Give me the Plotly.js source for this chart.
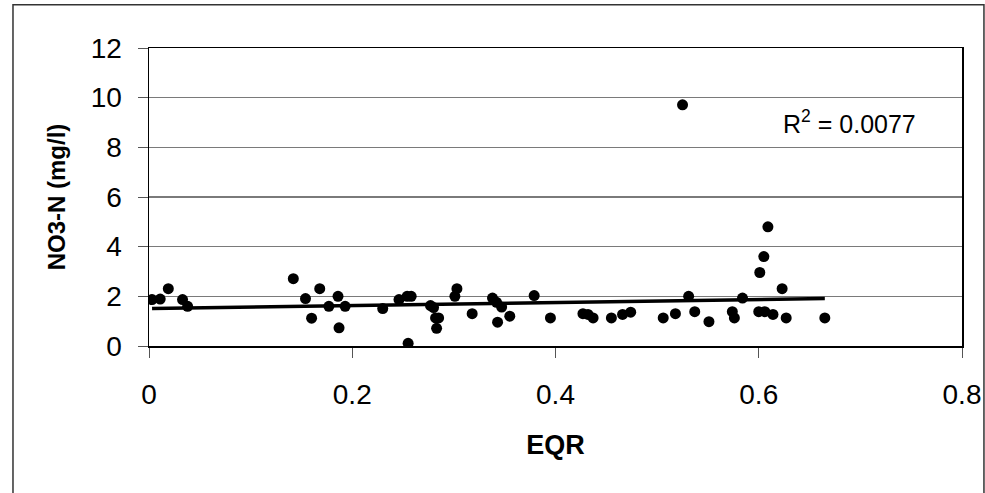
<!DOCTYPE html>
<html>
<head>
<meta charset="utf-8">
<script src="https://cdn.plot.ly/plotly-3.0.1.min.js"></script>
<style>html,body{margin:0;padding:0;background:#fff;}#chart{width:985px;height:493px;}</style>
</head>
<body>
<div id="chart"></div>
<script>
// EQR values (x) and NO3-N values (y, mg/l)
const eqr = [0.003,0.011,0.019,0.033,0.038,0.142,0.154,0.160,0.168,0.177,0.186,0.187,0.193,0.230,0.246,0.254,0.258,0.255,0.277,0.280,0.282,0.285,0.283,0.301,0.303,0.318,0.338,0.342,0.347,0.343,0.355,0.379,0.395,0.427,0.432,0.437,0.455,0.466,0.474,0.506,0.518,0.525,0.531,0.537,0.551,0.574,0.576,0.584,0.601,0.605,0.609,0.600,0.606,0.614,0.623,0.627,0.665];
const no3n = [1.87,1.89,2.31,1.87,1.60,2.71,1.91,1.12,2.31,1.60,2.00,0.73,1.60,1.51,1.87,2.00,2.00,0.11,1.63,1.55,1.13,1.13,0.71,2.00,2.31,1.30,1.93,1.76,1.57,0.96,1.20,2.03,1.13,1.30,1.27,1.13,1.13,1.27,1.36,1.13,1.30,9.71,2.00,1.38,0.98,1.38,1.13,1.93,2.96,3.60,4.80,1.38,1.38,1.27,2.31,1.13,1.13];
// Linear trendline end points
const trendX = [0.003, 0.665];
const trendY = [1.51, 1.91];
const xTicks = [0, 0.2, 0.4, 0.6, 0.8];
const xTickText = ["0", "0.2", "0.4", "0.6", "0.8"];
const yTicks = [0, 2, 4, 6, 8, 10, 12];
const r2Label = "R<sup>2</sup> = 0.0077";

const font = "Liberation Sans, Arial, sans-serif";
const data = [
  {x: trendX, y: trendY, mode: 'lines', type: 'scatter', line: {color: '#000', width: 3.5}, hoverinfo: 'skip'},
  {x: eqr, y: no3n, mode: 'markers', type: 'scatter', marker: {color: '#000', size: 11}, hoverinfo: 'skip'}
];
const layout = {
  width: 985, height: 493,
  margin: {l: 149, r: 23, t: 47.5, b: 146.5},
  paper_bgcolor: '#fff', plot_bgcolor: '#fff',
  showlegend: false,
  font: {family: font, color: '#000', size: 27},
  xaxis: {
    range: [0, 0.8], tickvals: xTicks, ticktext: xTickText,
    showgrid: false, zeroline: false,
    showline: true, linecolor: '#000', linewidth: 1.5, mirror: true,
    ticks: 'outside', ticklen: 10, tickcolor: '#555', tickwidth: 1,
    tickfont: {size: 28}, ticklabelstandoff: 13,
    title: {text: '<b>EQR</b>', font: {size: 27}, standoff: 26}
  },
  yaxis: {
    range: [0, 12], tickvals: yTicks,
    showgrid: true, gridcolor: '#7a7a7a', gridwidth: 1.2,
    zeroline: false,
    showline: true, linecolor: '#000', linewidth: 1.5, mirror: true,
    ticks: 'outside', ticklen: 10, tickcolor: '#555', tickwidth: 1,
    tickfont: {size: 28}, ticklabelstandoff: 10,
    title: {text: '<b>NO3-N (mg/l)</b>', font: {size: 24}, standoff: 18}
  },
  annotations: [{
    xref: 'paper', yref: 'paper', x: 0.862, y: 0.751,
    text: r2Label, showarrow: false, font: {size: 25, color: '#000'},
    xanchor: 'center', yanchor: 'middle'
  }],
  shapes: [{
    type: 'rect', xref: 'paper', yref: 'paper',
    x0: -0.1673, x1: 1.027, y0: -0.52, y1: 1.1455,
    line: {color: '#333', width: 1.5}, fillcolor: 'rgba(0,0,0,0)', layer: 'below'
  }]
};
Plotly.newPlot('chart', data, layout, {staticPlot: true, displayModeBar: false});
</script>
</body>
</html>
